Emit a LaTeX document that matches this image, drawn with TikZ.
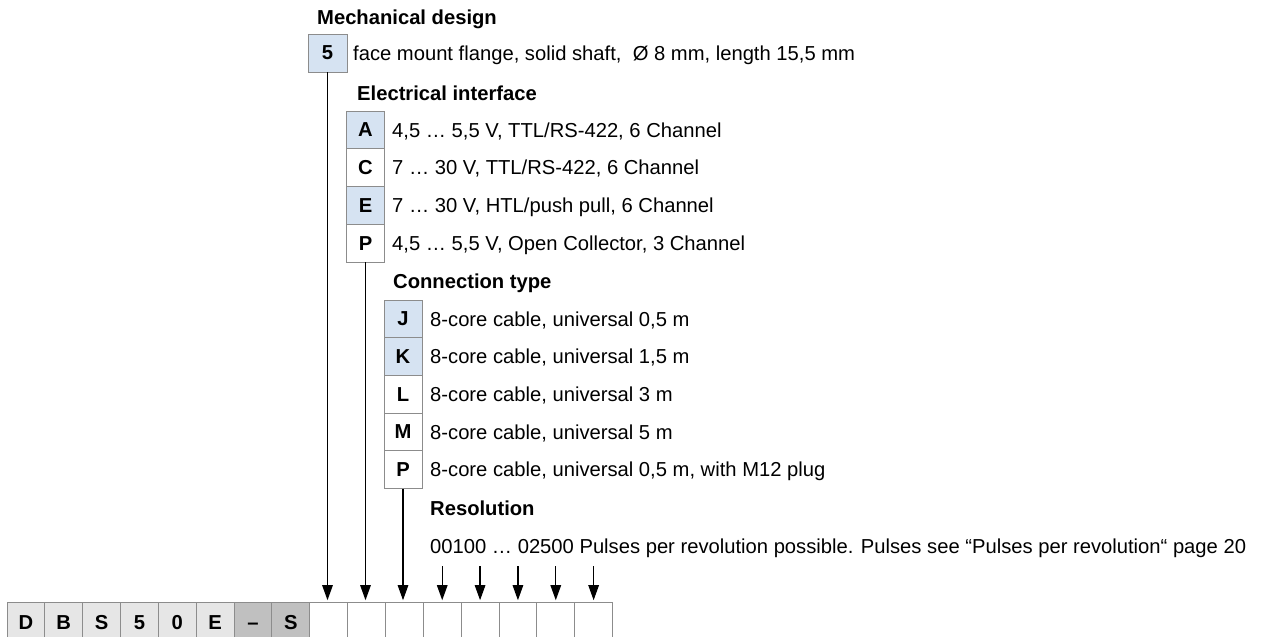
\documentclass[tikz,border=0pt]{standalone}
\usepackage{fontspec}
\setmainfont{Liberation Sans}
\usetikzlibrary{arrows.meta}
\definecolor{boxblue}{RGB}{214,227,242}
\definecolor{boxline}{RGB}{140,140,140}
\definecolor{cellA}{RGB}{230,230,230}
\definecolor{cellB}{RGB}{192,192,192}
\begin{document}
\begin{tikzpicture}[x=1pt,y=-1pt,
  every node/.style={font=\fontsize{20.2}{24}\selectfont, inner sep=0pt},
  head/.style={anchor=base west, font=\fontsize{20.2}{24}\selectfont\bfseries},
  desc/.style={anchor=base west},
  codebox/.style={draw=boxline, line width=0.9pt, minimum width=38pt, minimum height=37.7pt,
    font=\fontsize{20.2}{24}\selectfont\bfseries},
  blue/.style={fill=boxblue},
  cell/.style={draw=boxline, line width=0.9pt, minimum width=37.85pt, minimum height=40pt,
    anchor=north west, font=\fontsize{20.2}{24}\selectfont\bfseries},
  conn/.style={line width=1.2pt, -{Triangle[length=15pt,width=10.5pt]}, shorten >=1.5pt}
]
\clip (0,0) rectangle (1261,637);

% order code cells
\foreach \i/\t/\c in {0/D/cellA,1/B/cellA,2/S/cellA,3/5/cellA,4/0/cellA,5/E/cellA,6/–/cellB,7/S/cellB,
  8//white,9//white,10//white,11//white,12//white,13//white,14//white,15//white}{
  \node[cell, fill=\c] (c\i) at ({6.5+37.85*\i},601.7) {\vphantom{S}\t};
}

% Mechanical design
\node[head] (hmech) at (317,24) {Mechanical design};
\node[codebox, blue, minimum width=39pt, minimum height=38pt] (b5) at (327.5,53) {5};
\node[desc] (t5) at (353,60.2) {face mount flange, solid shaft,~ Ø 8 mm, length 15,5 mm};

% Electrical interface
\node[head] (helec) at (357,100) {Electrical interface};
\node[codebox, blue, minimum width=37.5pt] (eA) at (365.5,129.9) {A};
\node[codebox, minimum width=37.5pt] (eC) at (365.5,167.6) {C};
\node[codebox, blue, minimum width=37.5pt] (eE) at (365.5,205.4) {E};
\node[codebox, minimum width=37.5pt] (eP) at (365.5,243.1) {P};
\node[desc] (teA) at (392,137.1) {4,5 … 5,5 V, TTL/RS-422, 6 Channel};
\node[desc] (teC) at (392,174.8) {7 … 30 V, TTL/RS-422, 6 Channel};
\node[desc] (teE) at (392,212.6) {7 … 30 V, HTL/push pull, 6 Channel};
\node[desc] (teP) at (392,250.3) {4,5 … 5,5 V, Open Collector, 3 Channel};

% Connection type
\node[head] (hconn) at (393,288) {Connection type};
\node[codebox, blue] (kJ) at (403,318.8) {J};
\node[codebox, blue] (kK) at (403,356.5) {K};
\node[codebox] (kL) at (403,394.2) {L};
\node[codebox] (kM) at (403,431.9) {M};
\node[codebox] (kP) at (403,469.6) {P};
\node[desc] (tkJ) at (430,326) {8-core cable, universal 0,5 m};
\node[desc] (tkK) at (430,363.7) {8-core cable, universal 1,5 m};
\node[desc] (tkL) at (430,401.4) {8-core cable, universal 3 m};
\node[desc] (tkM) at (430,439.1) {8-core cable, universal 5 m};
\node[desc] (tkP) at (430,476.8) {8-core cable, universal 0,5 m, with M12 plug};

% Resolution
\node[head] (hres) at (430,515) {Resolution};
\node[desc] (tres) at (430,553) {00100 … 02500 Pulses per revolution possible. Pulses see “Pulses per revolution“ page 20};

% connectors
\draw[conn] (b5.south) -- (b5.south |- c8.north);
\draw[conn] (eP.south) -- (eP.south |- c9.north);
\draw[conn] (kP.south) -- (kP.south |- c10.north);
\foreach \i in {11,...,15}{
  \coordinate (r\i) at ([yshift=35.7pt]c\i.north);
  \draw[conn] (r\i) -- (c\i.north);
}
\end{tikzpicture}
\end{document}
